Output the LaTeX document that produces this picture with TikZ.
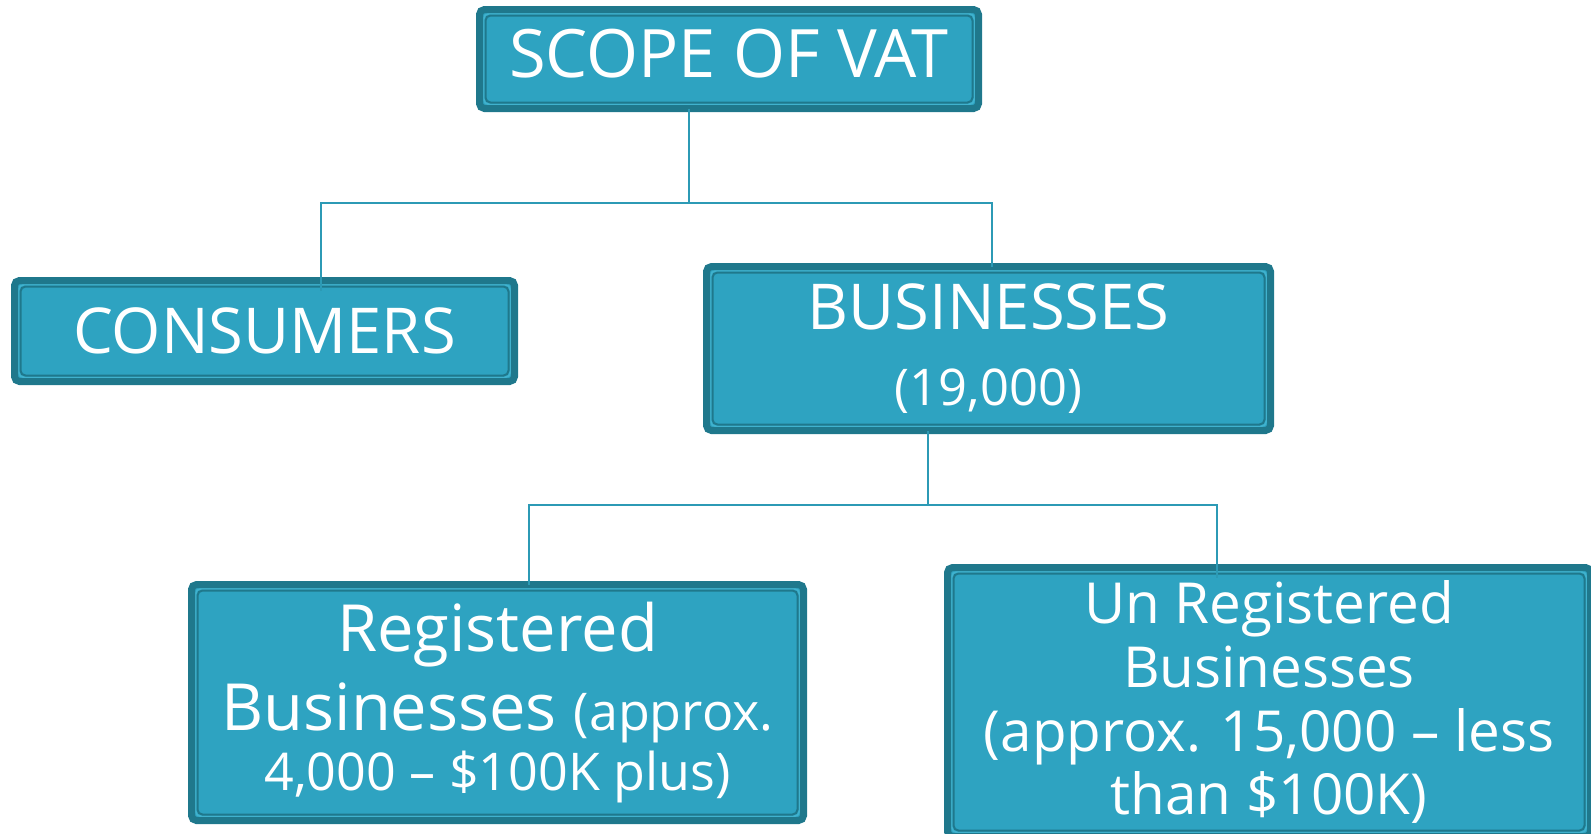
\documentclass[tikz,border=0pt]{standalone}
\usepackage{fontspec}
\setmainfont{Open Sans}
\definecolor{vatfill}{RGB}{46,163,193}
\definecolor{vatdark}{RGB}{31,120,140}
\definecolor{vatlight}{RGB}{64,178,206}
\definecolor{vatline}{RGB}{44,154,181}
\tikzset{
	vatbox/.style = {draw=vatdark, fill=vatfill, line width=0.07cm, rounded corners=0.05cm,
		text=white, align=center, inner sep=0pt, outer sep=0pt,
		path picture={
			\draw[vatlight, line width=0.016cm] ([shift={(0.042,-0.042)}]path picture bounding box.north west) rectangle ([shift={(-0.042,0.042)}]path picture bounding box.south east);
			\draw[vatdark, line width=0.02cm] ([shift={(0.06,-0.06)}]path picture bounding box.north west) rectangle ([shift={(-0.06,0.06)}]path picture bounding box.south east);
		}},
	link/.style = {draw=vatline, line width=0.6pt}
}

\begin{document}
\begin{tikzpicture}
		\useasboundingbox (0,0) rectangle (15.91,-8.33);
		\clip (0,0) rectangle (15.91,-8.33);
		% boxes
		\node [vatbox, minimum width=4.99cm, minimum height=0.99cm, text depth=0.12cm,
			font=\fontsize{19}{23}\selectfont] (scope) at (7.29,-0.59) {SCOPE OF VAT};
		\node [vatbox, minimum width=5.00cm, minimum height=1.01cm,
			font=\fontsize{18}{22}\selectfont] (consumers) at (2.645,-3.31) {CONSUMERS};
		\node [vatbox, minimum width=5.64cm, minimum height=1.64cm,
			font=\fontsize{18}{21.6}\selectfont] (businesses) at (9.885,-3.485)
			{BUSINESSES\\{\fontsize{14.4}{21.6}\selectfont (19,000)}};
		\node [vatbox, minimum width=6.12cm, minimum height=2.36cm,
			font=\fontsize{18.5}{22.5}\selectfont] (registered) at (4.975,-7.025)
			{Registered\\Businesses {\fontsize{14.8}{17.4}\selectfont (approx.}\\[-0.19cm]{\fontsize{14.8}{17.4}\selectfont 4,000 – \$100K plus)}};
		\node [vatbox, minimum width=6.43cm, minimum height=2.69cm,
			font=\fontsize{16.1}{18.2}\selectfont] (unreg) at (12.69,-7.02)
			{Un Registered\\Businesses\\(approx. 15,000 – less\\than \$100K)};
		% connectors
		\draw [link] ([xshift=-0.4cm]scope.south) -- ++(0,-0.945) coordinate (fork1);
		\draw [link] (fork1) -| ([xshift=0.565cm, yshift=-0.1cm]consumers.north);
		\draw [link] (fork1) -| ([xshift=0.035cm]businesses.north);
		\draw [link] ([xshift=-0.605cm]businesses.south) -- ++(0,-0.745) coordinate (fork2);
		\draw [link] (fork2) -| ([xshift=0.315cm]registered.north);
		\draw [link] (fork2) -| ([xshift=-0.52cm, yshift=-0.1cm]unreg.north);
\end{tikzpicture}
\end{document}
